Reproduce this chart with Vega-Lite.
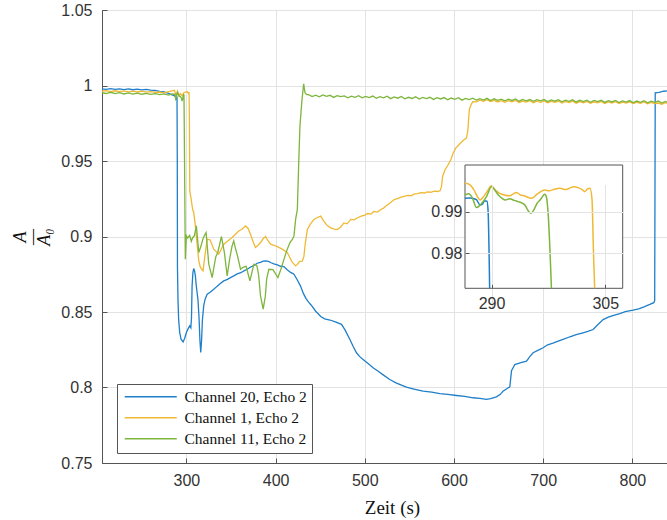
{
  "$schema": "https://vega.github.io/schema/vega-lite/v6.json",
  "width": 565,
  "height": 453,
  "autosize": {"type": "none"},
  "padding": {"left": 102, "top": 10, "right": 0, "bottom": 57},
  "background": "white",
  "config": {"view": {"stroke": "#555", "strokeWidth": 1}},
  "datasets": {
    "main": [
      {"s":"Channel 20, Echo 2","t":205.4,"v":0.9978},{"s":"Channel 20, Echo 2","t":210,"v":0.9975},{"s":"Channel 20, Echo 2","t":215,"v":0.9979},{"s":"Channel 20, Echo 2","t":220,"v":0.9974},{"s":"Channel 20, Echo 2","t":225,"v":0.9977},{"s":"Channel 20, Echo 2","t":230,"v":0.9973},{"s":"Channel 20, Echo 2","t":235,"v":0.9977},{"s":"Channel 20, Echo 2","t":240,"v":0.9972},{"s":"Channel 20, Echo 2","t":245,"v":0.9976},{"s":"Channel 20, Echo 2","t":250,"v":0.9971},{"s":"Channel 20, Echo 2","t":255,"v":0.9974},{"s":"Channel 20, Echo 2","t":260,"v":0.9969},{"s":"Channel 20, Echo 2","t":265,"v":0.9967},{"s":"Channel 20, Echo 2","t":270,"v":0.9961},{"s":"Channel 20, Echo 2","t":275,"v":0.9957},{"s":"Channel 20, Echo 2","t":280,"v":0.9948},{"s":"Channel 20, Echo 2","t":284,"v":0.9938},{"s":"Channel 20, Echo 2","t":287,"v":0.9932},{"s":"Channel 20, Echo 2","t":288.5,"v":0.9916},{"s":"Channel 20, Echo 2","t":289.1,"v":0.9926},{"s":"Channel 20, Echo 2","t":289.5,"v":0.9924},{"s":"Channel 20, Echo 2","t":289.8,"v":0.95},{"s":"Channel 20, Echo 2","t":290.0,"v":0.8795},{"s":"Channel 20, Echo 2","t":290.6,"v":0.858},{"s":"Channel 20, Echo 2","t":291.3,"v":0.8452},{"s":"Channel 20, Echo 2","t":292.5,"v":0.8365},{"s":"Channel 20, Echo 2","t":294,"v":0.832},{"s":"Channel 20, Echo 2","t":296.3,"v":0.8302},{"s":"Channel 20, Echo 2","t":298,"v":0.8325},{"s":"Channel 20, Echo 2","t":300,"v":0.8364},{"s":"Channel 20, Echo 2","t":302,"v":0.839},{"s":"Channel 20, Echo 2","t":303.7,"v":0.8408},{"s":"Channel 20, Echo 2","t":305,"v":0.8395},{"s":"Channel 20, Echo 2","t":305.7,"v":0.846},{"s":"Channel 20, Echo 2","t":306.4,"v":0.8673},{"s":"Channel 20, Echo 2","t":307.3,"v":0.876},{"s":"Channel 20, Echo 2","t":308.2,"v":0.8788},{"s":"Channel 20, Echo 2","t":309.2,"v":0.877},{"s":"Channel 20, Echo 2","t":310.1,"v":0.8739},{"s":"Channel 20, Echo 2","t":311,"v":0.868},{"s":"Channel 20, Echo 2","t":312,"v":0.8629},{"s":"Channel 20, Echo 2","t":313,"v":0.858},{"s":"Channel 20, Echo 2","t":314.2,"v":0.846},{"s":"Channel 20, Echo 2","t":315.2,"v":0.831},{"s":"Channel 20, Echo 2","t":316.1,"v":0.8232},{"s":"Channel 20, Echo 2","t":317,"v":0.831},{"s":"Channel 20, Echo 2","t":318,"v":0.845},{"s":"Channel 20, Echo 2","t":319.4,"v":0.854},{"s":"Channel 20, Echo 2","t":321,"v":0.8585},{"s":"Channel 20, Echo 2","t":323.3,"v":0.8618},{"s":"Channel 20, Echo 2","t":327,"v":0.8632},{"s":"Channel 20, Echo 2","t":330.7,"v":0.865},{"s":"Channel 20, Echo 2","t":334,"v":0.8668},{"s":"Channel 20, Echo 2","t":338,"v":0.8688},{"s":"Channel 20, Echo 2","t":341.9,"v":0.8706},{"s":"Channel 20, Echo 2","t":346,"v":0.8716},{"s":"Channel 20, Echo 2","t":349.5,"v":0.8728},{"s":"Channel 20, Echo 2","t":353.1,"v":0.8739},{"s":"Channel 20, Echo 2","t":357,"v":0.8752},{"s":"Channel 20, Echo 2","t":361,"v":0.876},{"s":"Channel 20, Echo 2","t":365,"v":0.8774},{"s":"Channel 20, Echo 2","t":368.2,"v":0.8783},{"s":"Channel 20, Echo 2","t":372,"v":0.8798},{"s":"Channel 20, Echo 2","t":376,"v":0.8809},{"s":"Channel 20, Echo 2","t":379.4,"v":0.8823},{"s":"Channel 20, Echo 2","t":383,"v":0.8829},{"s":"Channel 20, Echo 2","t":386,"v":0.8837},{"s":"Channel 20, Echo 2","t":388.8,"v":0.8839},{"s":"Channel 20, Echo 2","t":392,"v":0.8835},{"s":"Channel 20, Echo 2","t":395,"v":0.8826},{"s":"Channel 20, Echo 2","t":398.1,"v":0.8819},{"s":"Channel 20, Echo 2","t":402,"v":0.8812},{"s":"Channel 20, Echo 2","t":405.6,"v":0.8803},{"s":"Channel 20, Echo 2","t":409.3,"v":0.8801},{"s":"Channel 20, Echo 2","t":413,"v":0.878},{"s":"Channel 20, Echo 2","t":416.9,"v":0.8762},{"s":"Channel 20, Echo 2","t":420.6,"v":0.875},{"s":"Channel 20, Echo 2","t":424.4,"v":0.8712},{"s":"Channel 20, Echo 2","t":428.1,"v":0.867},{"s":"Channel 20, Echo 2","t":431,"v":0.8625},{"s":"Channel 20, Echo 2","t":434,"v":0.859},{"s":"Channel 20, Echo 2","t":437,"v":0.8565},{"s":"Channel 20, Echo 2","t":440,"v":0.8545},{"s":"Channel 20, Echo 2","t":445,"v":0.8505},{"s":"Channel 20, Echo 2","t":450.6,"v":0.847},{"s":"Channel 20, Echo 2","t":455,"v":0.8455},{"s":"Channel 20, Echo 2","t":461,"v":0.8447},{"s":"Channel 20, Echo 2","t":467,"v":0.8435},{"s":"Channel 20, Echo 2","t":473.9,"v":0.8418},{"s":"Channel 20, Echo 2","t":478,"v":0.838},{"s":"Channel 20, Echo 2","t":483.2,"v":0.8319},{"s":"Channel 20, Echo 2","t":487,"v":0.8272},{"s":"Channel 20, Echo 2","t":490.7,"v":0.823},{"s":"Channel 20, Echo 2","t":494,"v":0.8206},{"s":"Channel 20, Echo 2","t":498.1,"v":0.8186},{"s":"Channel 20, Echo 2","t":503,"v":0.8162},{"s":"Channel 20, Echo 2","t":509.3,"v":0.8131},{"s":"Channel 20, Echo 2","t":515,"v":0.8108},{"s":"Channel 20, Echo 2","t":521,"v":0.8082},{"s":"Channel 20, Echo 2","t":528,"v":0.8053},{"s":"Channel 20, Echo 2","t":535,"v":0.8031},{"s":"Channel 20, Echo 2","t":541,"v":0.8016},{"s":"Channel 20, Echo 2","t":546.7,"v":0.8002},{"s":"Channel 20, Echo 2","t":555,"v":0.799},{"s":"Channel 20, Echo 2","t":565.4,"v":0.7976},{"s":"Channel 20, Echo 2","t":575,"v":0.7969},{"s":"Channel 20, Echo 2","t":584.1,"v":0.796},{"s":"Channel 20, Echo 2","t":593,"v":0.7954},{"s":"Channel 20, Echo 2","t":602.8,"v":0.7947},{"s":"Channel 20, Echo 2","t":612,"v":0.7941},{"s":"Channel 20, Echo 2","t":621.5,"v":0.7932},{"s":"Channel 20, Echo 2","t":629,"v":0.7928},{"s":"Channel 20, Echo 2","t":636.4,"v":0.7921},{"s":"Channel 20, Echo 2","t":641,"v":0.7926},{"s":"Channel 20, Echo 2","t":647.6,"v":0.7938},{"s":"Channel 20, Echo 2","t":652,"v":0.7955},{"s":"Channel 20, Echo 2","t":655,"v":0.7976},{"s":"Channel 20, Echo 2","t":660,"v":0.7995},{"s":"Channel 20, Echo 2","t":662.6,"v":0.8004},{"s":"Channel 20, Echo 2","t":664.5,"v":0.8112},{"s":"Channel 20, Echo 2","t":668.2,"v":0.8152},{"s":"Channel 20, Echo 2","t":675,"v":0.8165},{"s":"Channel 20, Echo 2","t":681.3,"v":0.8175},{"s":"Channel 20, Echo 2","t":685,"v":0.8205},{"s":"Channel 20, Echo 2","t":688.7,"v":0.823},{"s":"Channel 20, Echo 2","t":694,"v":0.8246},{"s":"Channel 20, Echo 2","t":699.9,"v":0.8263},{"s":"Channel 20, Echo 2","t":705,"v":0.8283},{"s":"Channel 20, Echo 2","t":711,"v":0.8294},{"s":"Channel 20, Echo 2","t":716,"v":0.8306},{"s":"Channel 20, Echo 2","t":722.3,"v":0.8319},{"s":"Channel 20, Echo 2","t":730,"v":0.8336},{"s":"Channel 20, Echo 2","t":737,"v":0.835},{"s":"Channel 20, Echo 2","t":744.7,"v":0.8362},{"s":"Channel 20, Echo 2","t":750,"v":0.8371},{"s":"Channel 20, Echo 2","t":756,"v":0.8384},{"s":"Channel 20, Echo 2","t":762,"v":0.8421},{"s":"Channel 20, Echo 2","t":767.2,"v":0.845},{"s":"Channel 20, Echo 2","t":773,"v":0.8466},{"s":"Channel 20, Echo 2","t":780,"v":0.848},{"s":"Channel 20, Echo 2","t":785.9,"v":0.849},{"s":"Channel 20, Echo 2","t":792,"v":0.8502},{"s":"Channel 20, Echo 2","t":800.8,"v":0.8512},{"s":"Channel 20, Echo 2","t":807,"v":0.8521},{"s":"Channel 20, Echo 2","t":813,"v":0.8534},{"s":"Channel 20, Echo 2","t":819.5,"v":0.855},{"s":"Channel 20, Echo 2","t":824,"v":0.8562},{"s":"Channel 20, Echo 2","t":825,"v":0.8575},{"s":"Channel 20, Echo 2","t":825.6,"v":0.9952},{"s":"Channel 20, Echo 2","t":830,"v":0.9955},{"s":"Channel 20, Echo 2","t":835,"v":0.9962},{"s":"Channel 20, Echo 2","t":838.8,"v":0.9964},

      {"s":"Channel 1, Echo 2","t":205.4,"v":0.9962},{"s":"Channel 1, Echo 2","t":210,"v":0.9966},{"s":"Channel 1, Echo 2","t":215,"v":0.996},{"s":"Channel 1, Echo 2","t":220,"v":0.9965},{"s":"Channel 1, Echo 2","t":225,"v":0.9959},{"s":"Channel 1, Echo 2","t":230,"v":0.9964},{"s":"Channel 1, Echo 2","t":235,"v":0.9958},{"s":"Channel 1, Echo 2","t":240,"v":0.9963},{"s":"Channel 1, Echo 2","t":245,"v":0.9957},{"s":"Channel 1, Echo 2","t":250,"v":0.9962},{"s":"Channel 1, Echo 2","t":255,"v":0.9956},{"s":"Channel 1, Echo 2","t":260,"v":0.996},{"s":"Channel 1, Echo 2","t":265,"v":0.9954},{"s":"Channel 1, Echo 2","t":270,"v":0.9957},{"s":"Channel 1, Echo 2","t":275,"v":0.9951},{"s":"Channel 1, Echo 2","t":280,"v":0.9959},{"s":"Channel 1, Echo 2","t":284,"v":0.9965},{"s":"Channel 1, Echo 2","t":286.6,"v":0.9968},{"s":"Channel 1, Echo 2","t":287.8,"v":0.9948},{"s":"Channel 1, Echo 2","t":288.5,"v":0.9928},{"s":"Channel 1, Echo 2","t":289.3,"v":0.9945},{"s":"Channel 1, Echo 2","t":290,"v":0.9962},{"s":"Channel 1, Echo 2","t":291.1,"v":0.9944},{"s":"Channel 1, Echo 2","t":292.4,"v":0.9938},{"s":"Channel 1, Echo 2","t":293.3,"v":0.9946},{"s":"Channel 1, Echo 2","t":295.3,"v":0.9932},{"s":"Channel 1, Echo 2","t":297,"v":0.9952},{"s":"Channel 1, Echo 2","t":299,"v":0.9956},{"s":"Channel 1, Echo 2","t":300.8,"v":0.996},{"s":"Channel 1, Echo 2","t":302.3,"v":0.9948},{"s":"Channel 1, Echo 2","t":303.0,"v":0.9956},{"s":"Channel 1, Echo 2","t":303.4,"v":0.975},{"s":"Channel 1, Echo 2","t":303.8,"v":0.93},{"s":"Channel 1, Echo 2","t":305.3,"v":0.925},{"s":"Channel 1, Echo 2","t":307,"v":0.918},{"s":"Channel 1, Echo 2","t":308.2,"v":0.9159},{"s":"Channel 1, Echo 2","t":310.1,"v":0.907},{"s":"Channel 1, Echo 2","t":312,"v":0.895},{"s":"Channel 1, Echo 2","t":313.9,"v":0.8839},{"s":"Channel 1, Echo 2","t":315.7,"v":0.8795},{"s":"Channel 1, Echo 2","t":318.7,"v":0.8772},{"s":"Channel 1, Echo 2","t":320.5,"v":0.886},{"s":"Channel 1, Echo 2","t":323.3,"v":0.8982},{"s":"Channel 1, Echo 2","t":326.5,"v":0.8978},{"s":"Channel 1, Echo 2","t":330.7,"v":0.8916},{"s":"Channel 1, Echo 2","t":336.3,"v":0.8883},{"s":"Channel 1, Echo 2","t":341.9,"v":0.8949},{"s":"Channel 1, Echo 2","t":346,"v":0.8968},{"s":"Channel 1, Echo 2","t":351.3,"v":0.8993},{"s":"Channel 1, Echo 2","t":355,"v":0.9015},{"s":"Channel 1, Echo 2","t":358.8,"v":0.9037},{"s":"Channel 1, Echo 2","t":362.6,"v":0.905},{"s":"Channel 1, Echo 2","t":366.3,"v":0.907},{"s":"Channel 1, Echo 2","t":369,"v":0.9055},{"s":"Channel 1, Echo 2","t":371.9,"v":0.9015},{"s":"Channel 1, Echo 2","t":375,"v":0.8962},{"s":"Channel 1, Echo 2","t":377.5,"v":0.8927},{"s":"Channel 1, Echo 2","t":380,"v":0.894},{"s":"Channel 1, Echo 2","t":383.1,"v":0.896},{"s":"Channel 1, Echo 2","t":386,"v":0.8985},{"s":"Channel 1, Echo 2","t":388.8,"v":0.9},{"s":"Channel 1, Echo 2","t":391.5,"v":0.8972},{"s":"Channel 1, Echo 2","t":394.4,"v":0.8949},{"s":"Channel 1, Echo 2","t":398,"v":0.8942},{"s":"Channel 1, Echo 2","t":402,"v":0.8933},{"s":"Channel 1, Echo 2","t":407.5,"v":0.8916},{"s":"Channel 1, Echo 2","t":413.1,"v":0.8894},{"s":"Channel 1, Echo 2","t":416,"v":0.886},{"s":"Channel 1, Echo 2","t":418.8,"v":0.8828},{"s":"Channel 1, Echo 2","t":422.5,"v":0.8805},{"s":"Channel 1, Echo 2","t":424.4,"v":0.8815},{"s":"Channel 1, Echo 2","t":427,"v":0.8836},{"s":"Channel 1, Echo 2","t":430,"v":0.8837},{"s":"Channel 1, Echo 2","t":431.8,"v":0.887},{"s":"Channel 1, Echo 2","t":433.2,"v":0.895},{"s":"Channel 1, Echo 2","t":435.6,"v":0.9046},{"s":"Channel 1, Echo 2","t":439,"v":0.9082},{"s":"Channel 1, Echo 2","t":443,"v":0.9113},{"s":"Channel 1, Echo 2","t":447,"v":0.9126},{"s":"Channel 1, Echo 2","t":450.6,"v":0.9135},{"s":"Channel 1, Echo 2","t":454,"v":0.9102},{"s":"Channel 1, Echo 2","t":458,"v":0.9072},{"s":"Channel 1, Echo 2","t":461.8,"v":0.9057},{"s":"Channel 1, Echo 2","t":466,"v":0.9049},{"s":"Channel 1, Echo 2","t":469.3,"v":0.9046},{"s":"Channel 1, Echo 2","t":473,"v":0.9063},{"s":"Channel 1, Echo 2","t":476.7,"v":0.909},{"s":"Channel 1, Echo 2","t":480,"v":0.9084},{"s":"Channel 1, Echo 2","t":484.3,"v":0.9113},{"s":"Channel 1, Echo 2","t":488,"v":0.911},{"s":"Channel 1, Echo 2","t":492,"v":0.9124},{"s":"Channel 1, Echo 2","t":496,"v":0.9135},{"s":"Channel 1, Echo 2","t":500,"v":0.9142},{"s":"Channel 1, Echo 2","t":503,"v":0.9152},{"s":"Channel 1, Echo 2","t":507,"v":0.9148},{"s":"Channel 1, Echo 2","t":510,"v":0.9166},{"s":"Channel 1, Echo 2","t":514,"v":0.9162},{"s":"Channel 1, Echo 2","t":518,"v":0.9179},{"s":"Channel 1, Echo 2","t":521,"v":0.9188},{"s":"Channel 1, Echo 2","t":524,"v":0.9203},{"s":"Channel 1, Echo 2","t":528,"v":0.922},{"s":"Channel 1, Echo 2","t":533,"v":0.9245},{"s":"Channel 1, Echo 2","t":537,"v":0.9252},{"s":"Channel 1, Echo 2","t":540,"v":0.9259},{"s":"Channel 1, Echo 2","t":544,"v":0.9266},{"s":"Channel 1, Echo 2","t":548,"v":0.9272},{"s":"Channel 1, Echo 2","t":552,"v":0.927},{"s":"Channel 1, Echo 2","t":555,"v":0.928},{"s":"Channel 1, Echo 2","t":559,"v":0.9284},{"s":"Channel 1, Echo 2","t":563,"v":0.929},{"s":"Channel 1, Echo 2","t":567,"v":0.9288},{"s":"Channel 1, Echo 2","t":570,"v":0.9296},{"s":"Channel 1, Echo 2","t":574,"v":0.9293},{"s":"Channel 1, Echo 2","t":578,"v":0.93},{"s":"Channel 1, Echo 2","t":582,"v":0.9298},{"s":"Channel 1, Echo 2","t":584.5,"v":0.9304},{"s":"Channel 1, Echo 2","t":586,"v":0.933},{"s":"Channel 1, Echo 2","t":587.3,"v":0.9399},{"s":"Channel 1, Echo 2","t":590,"v":0.9442},{"s":"Channel 1, Echo 2","t":593,"v":0.947},{"s":"Channel 1, Echo 2","t":596.6,"v":0.951},{"s":"Channel 1, Echo 2","t":599,"v":0.9552},{"s":"Channel 1, Echo 2","t":602.2,"v":0.9587},{"s":"Channel 1, Echo 2","t":606,"v":0.9611},{"s":"Channel 1, Echo 2","t":610,"v":0.9634},{"s":"Channel 1, Echo 2","t":611.6,"v":0.9642},{"s":"Channel 1, Echo 2","t":614,"v":0.9652},{"s":"Channel 1, Echo 2","t":615.5,"v":0.97},{"s":"Channel 1, Echo 2","t":617.2,"v":0.9841},{"s":"Channel 1, Echo 2","t":619,"v":0.987},{"s":"Channel 1, Echo 2","t":621,"v":0.9893},{"s":"Channel 1, Echo 2","t":625,"v":0.9892},{"s":"Channel 1, Echo 2","t":629,"v":0.9903},{"s":"Channel 1, Echo 2","t":633,"v":0.9895},{"s":"Channel 1, Echo 2","t":637,"v":0.9906},{"s":"Channel 1, Echo 2","t":641,"v":0.9893},{"s":"Channel 1, Echo 2","t":645,"v":0.9902},{"s":"Channel 1, Echo 2","t":649,"v":0.9891},{"s":"Channel 1, Echo 2","t":653,"v":0.99},{"s":"Channel 1, Echo 2","t":657,"v":0.9889},{"s":"Channel 1, Echo 2","t":661,"v":0.9899},{"s":"Channel 1, Echo 2","t":665,"v":0.9892},{"s":"Channel 1, Echo 2","t":669,"v":0.9901},{"s":"Channel 1, Echo 2","t":673,"v":0.9888},{"s":"Channel 1, Echo 2","t":677,"v":0.9897},{"s":"Channel 1, Echo 2","t":681,"v":0.989},{"s":"Channel 1, Echo 2","t":685,"v":0.9899},{"s":"Channel 1, Echo 2","t":689,"v":0.9886},{"s":"Channel 1, Echo 2","t":693,"v":0.9896},{"s":"Channel 1, Echo 2","t":697,"v":0.9889},{"s":"Channel 1, Echo 2","t":701,"v":0.9898},{"s":"Channel 1, Echo 2","t":705,"v":0.9885},{"s":"Channel 1, Echo 2","t":709,"v":0.9895},{"s":"Channel 1, Echo 2","t":713,"v":0.9888},{"s":"Channel 1, Echo 2","t":717,"v":0.9897},{"s":"Channel 1, Echo 2","t":721,"v":0.9884},{"s":"Channel 1, Echo 2","t":725,"v":0.9894},{"s":"Channel 1, Echo 2","t":729,"v":0.9887},{"s":"Channel 1, Echo 2","t":733,"v":0.9896},{"s":"Channel 1, Echo 2","t":737,"v":0.9883},{"s":"Channel 1, Echo 2","t":741,"v":0.9893},{"s":"Channel 1, Echo 2","t":745,"v":0.9886},{"s":"Channel 1, Echo 2","t":749,"v":0.9895},{"s":"Channel 1, Echo 2","t":753,"v":0.9882},{"s":"Channel 1, Echo 2","t":757,"v":0.9892},{"s":"Channel 1, Echo 2","t":761,"v":0.9885},{"s":"Channel 1, Echo 2","t":765,"v":0.9894},{"s":"Channel 1, Echo 2","t":769,"v":0.9881},{"s":"Channel 1, Echo 2","t":773,"v":0.9891},{"s":"Channel 1, Echo 2","t":777,"v":0.9884},{"s":"Channel 1, Echo 2","t":781,"v":0.9893},{"s":"Channel 1, Echo 2","t":785,"v":0.988},{"s":"Channel 1, Echo 2","t":789,"v":0.989},{"s":"Channel 1, Echo 2","t":793,"v":0.9883},{"s":"Channel 1, Echo 2","t":797,"v":0.9892},{"s":"Channel 1, Echo 2","t":801,"v":0.988},{"s":"Channel 1, Echo 2","t":805,"v":0.9889},{"s":"Channel 1, Echo 2","t":809,"v":0.9882},{"s":"Channel 1, Echo 2","t":813,"v":0.9891},{"s":"Channel 1, Echo 2","t":817,"v":0.9879},{"s":"Channel 1, Echo 2","t":821,"v":0.9888},{"s":"Channel 1, Echo 2","t":825,"v":0.9881},{"s":"Channel 1, Echo 2","t":829,"v":0.9884},{"s":"Channel 1, Echo 2","t":833,"v":0.9876},{"s":"Channel 1, Echo 2","t":837,"v":0.9886},{"s":"Channel 1, Echo 2","t":838.8,"v":0.9882},

      {"s":"Channel 11, Echo 2","t":205.4,"v":0.9952},{"s":"Channel 11, Echo 2","t":210,"v":0.9947},{"s":"Channel 11, Echo 2","t":215,"v":0.9955},{"s":"Channel 11, Echo 2","t":220,"v":0.9946},{"s":"Channel 11, Echo 2","t":225,"v":0.9953},{"s":"Channel 11, Echo 2","t":230,"v":0.9944},{"s":"Channel 11, Echo 2","t":235,"v":0.9951},{"s":"Channel 11, Echo 2","t":240,"v":0.9943},{"s":"Channel 11, Echo 2","t":245,"v":0.995},{"s":"Channel 11, Echo 2","t":250,"v":0.9942},{"s":"Channel 11, Echo 2","t":255,"v":0.9948},{"s":"Channel 11, Echo 2","t":260,"v":0.9941},{"s":"Channel 11, Echo 2","t":265,"v":0.9946},{"s":"Channel 11, Echo 2","t":270,"v":0.9939},{"s":"Channel 11, Echo 2","t":275,"v":0.9944},{"s":"Channel 11, Echo 2","t":280,"v":0.9937},{"s":"Channel 11, Echo 2","t":284,"v":0.9944},{"s":"Channel 11, Echo 2","t":286.6,"v":0.9942},{"s":"Channel 11, Echo 2","t":287.2,"v":0.9943},{"s":"Channel 11, Echo 2","t":288,"v":0.991},{"s":"Channel 11, Echo 2","t":288.7,"v":0.992},{"s":"Channel 11, Echo 2","t":289.4,"v":0.9945},{"s":"Channel 11, Echo 2","t":290,"v":0.996},{"s":"Channel 11, Echo 2","t":290.9,"v":0.994},{"s":"Channel 11, Echo 2","t":291.8,"v":0.9928},{"s":"Channel 11, Echo 2","t":292.7,"v":0.993},{"s":"Channel 11, Echo 2","t":293.5,"v":0.9924},{"s":"Channel 11, Echo 2","t":294.4,"v":0.9916},{"s":"Channel 11, Echo 2","t":295.2,"v":0.9896},{"s":"Channel 11, Echo 2","t":295.8,"v":0.9912},{"s":"Channel 11, Echo 2","t":296.4,"v":0.9928},{"s":"Channel 11, Echo 2","t":297.0,"v":0.9942},{"s":"Channel 11, Echo 2","t":297.3,"v":0.9935},{"s":"Channel 11, Echo 2","t":297.6,"v":0.975},{"s":"Channel 11, Echo 2","t":298.2,"v":0.93},{"s":"Channel 11, Echo 2","t":298.8,"v":0.885},{"s":"Channel 11, Echo 2","t":300,"v":0.9004},{"s":"Channel 11, Echo 2","t":301.5,"v":0.899},{"s":"Channel 11, Echo 2","t":303.7,"v":0.9007},{"s":"Channel 11, Echo 2","t":305.5,"v":0.8968},{"s":"Channel 11, Echo 2","t":307,"v":0.8992},{"s":"Channel 11, Echo 2","t":309,"v":0.9005},{"s":"Channel 11, Echo 2","t":311.2,"v":0.907},{"s":"Channel 11, Echo 2","t":313.9,"v":0.8894},{"s":"Channel 11, Echo 2","t":316,"v":0.893},{"s":"Channel 11, Echo 2","t":318.5,"v":0.8982},{"s":"Channel 11, Echo 2","t":320.5,"v":0.901},{"s":"Channel 11, Echo 2","t":322.1,"v":0.9026},{"s":"Channel 11, Echo 2","t":325.1,"v":0.8817},{"s":"Channel 11, Echo 2","t":328.9,"v":0.8728},{"s":"Channel 11, Echo 2","t":331,"v":0.88},{"s":"Channel 11, Echo 2","t":333,"v":0.8866},{"s":"Channel 11, Echo 2","t":335.2,"v":0.8894},{"s":"Channel 11, Echo 2","t":339.3,"v":0.9},{"s":"Channel 11, Echo 2","t":342.7,"v":0.889},{"s":"Channel 11, Echo 2","t":345.7,"v":0.8739},{"s":"Channel 11, Echo 2","t":348.5,"v":0.885},{"s":"Channel 11, Echo 2","t":351,"v":0.8932},{"s":"Channel 11, Echo 2","t":353.1,"v":0.8971},{"s":"Channel 11, Echo 2","t":355,"v":0.8922},{"s":"Channel 11, Echo 2","t":356.9,"v":0.8882},{"s":"Channel 11, Echo 2","t":360.7,"v":0.8783},{"s":"Channel 11, Echo 2","t":363.5,"v":0.8796},{"s":"Channel 11, Echo 2","t":367,"v":0.8802},{"s":"Channel 11, Echo 2","t":371.2,"v":0.8706},{"s":"Channel 11, Echo 2","t":375.7,"v":0.8817},{"s":"Channel 11, Echo 2","t":379,"v":0.8808},{"s":"Channel 11, Echo 2","t":381,"v":0.8745},{"s":"Channel 11, Echo 2","t":383.1,"v":0.8607},{"s":"Channel 11, Echo 2","t":386.1,"v":0.8519},{"s":"Channel 11, Echo 2","t":388.5,"v":0.8605},{"s":"Channel 11, Echo 2","t":390,"v":0.872},{"s":"Channel 11, Echo 2","t":392.5,"v":0.8783},{"s":"Channel 11, Echo 2","t":397,"v":0.8781},{"s":"Channel 11, Echo 2","t":402.6,"v":0.8728},{"s":"Channel 11, Echo 2","t":406,"v":0.8783},{"s":"Channel 11, Echo 2","t":409,"v":0.8842},{"s":"Channel 11, Echo 2","t":412.4,"v":0.8905},{"s":"Channel 11, Echo 2","t":416.1,"v":0.896},{"s":"Channel 11, Echo 2","t":419,"v":0.8982},{"s":"Channel 11, Echo 2","t":420.6,"v":0.9004},{"s":"Channel 11, Echo 2","t":422.5,"v":0.9115},{"s":"Channel 11, Echo 2","t":424.4,"v":0.9179},{"s":"Channel 11, Echo 2","t":426,"v":0.95},{"s":"Channel 11, Echo 2","t":427.3,"v":0.973},{"s":"Channel 11, Echo 2","t":429.5,"v":0.99},{"s":"Channel 11, Echo 2","t":431.5,"v":1.0011},{"s":"Channel 11, Echo 2","t":433,"v":0.9952},{"s":"Channel 11, Echo 2","t":434.8,"v":0.994},{"s":"Channel 11, Echo 2","t":437,"v":0.994},{"s":"Channel 11, Echo 2","t":441,"v":0.9927},{"s":"Channel 11, Echo 2","t":445,"v":0.9936},{"s":"Channel 11, Echo 2","t":449,"v":0.9925},{"s":"Channel 11, Echo 2","t":453,"v":0.9938},{"s":"Channel 11, Echo 2","t":457,"v":0.9928},{"s":"Channel 11, Echo 2","t":461,"v":0.9935},{"s":"Channel 11, Echo 2","t":465,"v":0.9921},{"s":"Channel 11, Echo 2","t":469,"v":0.9933},{"s":"Channel 11, Echo 2","t":473,"v":0.9926},{"s":"Channel 11, Echo 2","t":477,"v":0.9931},{"s":"Channel 11, Echo 2","t":481,"v":0.9919},{"s":"Channel 11, Echo 2","t":485,"v":0.9929},{"s":"Channel 11, Echo 2","t":489,"v":0.9922},{"s":"Channel 11, Echo 2","t":493,"v":0.9932},{"s":"Channel 11, Echo 2","t":497,"v":0.9918},{"s":"Channel 11, Echo 2","t":501,"v":0.9928},{"s":"Channel 11, Echo 2","t":505,"v":0.992},{"s":"Channel 11, Echo 2","t":509,"v":0.993},{"s":"Channel 11, Echo 2","t":513,"v":0.9915},{"s":"Channel 11, Echo 2","t":517,"v":0.9926},{"s":"Channel 11, Echo 2","t":521,"v":0.9918},{"s":"Channel 11, Echo 2","t":525,"v":0.9929},{"s":"Channel 11, Echo 2","t":529,"v":0.9913},{"s":"Channel 11, Echo 2","t":533,"v":0.9924},{"s":"Channel 11, Echo 2","t":537,"v":0.9916},{"s":"Channel 11, Echo 2","t":541,"v":0.9927},{"s":"Channel 11, Echo 2","t":545,"v":0.9912},{"s":"Channel 11, Echo 2","t":549,"v":0.9922},{"s":"Channel 11, Echo 2","t":553,"v":0.9914},{"s":"Channel 11, Echo 2","t":557,"v":0.9925},{"s":"Channel 11, Echo 2","t":561,"v":0.991},{"s":"Channel 11, Echo 2","t":565,"v":0.9921},{"s":"Channel 11, Echo 2","t":569,"v":0.9913},{"s":"Channel 11, Echo 2","t":573,"v":0.9922},{"s":"Channel 11, Echo 2","t":577,"v":0.9908},{"s":"Channel 11, Echo 2","t":581,"v":0.9919},{"s":"Channel 11, Echo 2","t":585,"v":0.9911},{"s":"Channel 11, Echo 2","t":589,"v":0.992},{"s":"Channel 11, Echo 2","t":593,"v":0.9906},{"s":"Channel 11, Echo 2","t":597,"v":0.9917},{"s":"Channel 11, Echo 2","t":601,"v":0.9909},{"s":"Channel 11, Echo 2","t":605,"v":0.9919},{"s":"Channel 11, Echo 2","t":609,"v":0.9903},{"s":"Channel 11, Echo 2","t":613,"v":0.9915},{"s":"Channel 11, Echo 2","t":617,"v":0.9907},{"s":"Channel 11, Echo 2","t":621,"v":0.9916},{"s":"Channel 11, Echo 2","t":625,"v":0.9903},{"s":"Channel 11, Echo 2","t":629,"v":0.9913},{"s":"Channel 11, Echo 2","t":633,"v":0.9904},{"s":"Channel 11, Echo 2","t":637,"v":0.9915},{"s":"Channel 11, Echo 2","t":641,"v":0.99},{"s":"Channel 11, Echo 2","t":645,"v":0.9912},{"s":"Channel 11, Echo 2","t":649,"v":0.9902},{"s":"Channel 11, Echo 2","t":653,"v":0.991},{"s":"Channel 11, Echo 2","t":657,"v":0.9898},{"s":"Channel 11, Echo 2","t":661,"v":0.9909},{"s":"Channel 11, Echo 2","t":665,"v":0.9901},{"s":"Channel 11, Echo 2","t":669,"v":0.9911},{"s":"Channel 11, Echo 2","t":673,"v":0.9896},{"s":"Channel 11, Echo 2","t":677,"v":0.9908},{"s":"Channel 11, Echo 2","t":681,"v":0.9899},{"s":"Channel 11, Echo 2","t":685,"v":0.9907},{"s":"Channel 11, Echo 2","t":689,"v":0.9895},{"s":"Channel 11, Echo 2","t":693,"v":0.9906},{"s":"Channel 11, Echo 2","t":697,"v":0.9898},{"s":"Channel 11, Echo 2","t":701,"v":0.9907},{"s":"Channel 11, Echo 2","t":705,"v":0.9893},{"s":"Channel 11, Echo 2","t":709,"v":0.9904},{"s":"Channel 11, Echo 2","t":713,"v":0.9896},{"s":"Channel 11, Echo 2","t":717,"v":0.9906},{"s":"Channel 11, Echo 2","t":721,"v":0.9892},{"s":"Channel 11, Echo 2","t":725,"v":0.9903},{"s":"Channel 11, Echo 2","t":729,"v":0.9895},{"s":"Channel 11, Echo 2","t":733,"v":0.9905},{"s":"Channel 11, Echo 2","t":737,"v":0.9891},{"s":"Channel 11, Echo 2","t":741,"v":0.9902},{"s":"Channel 11, Echo 2","t":745,"v":0.9894},{"s":"Channel 11, Echo 2","t":749,"v":0.9903},{"s":"Channel 11, Echo 2","t":753,"v":0.9889},{"s":"Channel 11, Echo 2","t":757,"v":0.9901},{"s":"Channel 11, Echo 2","t":761,"v":0.9893},{"s":"Channel 11, Echo 2","t":765,"v":0.9902},{"s":"Channel 11, Echo 2","t":769,"v":0.9888},{"s":"Channel 11, Echo 2","t":773,"v":0.9899},{"s":"Channel 11, Echo 2","t":777,"v":0.9891},{"s":"Channel 11, Echo 2","t":781,"v":0.9901},{"s":"Channel 11, Echo 2","t":785,"v":0.9887},{"s":"Channel 11, Echo 2","t":789,"v":0.9898},{"s":"Channel 11, Echo 2","t":793,"v":0.989},{"s":"Channel 11, Echo 2","t":797,"v":0.99},{"s":"Channel 11, Echo 2","t":801,"v":0.9886},{"s":"Channel 11, Echo 2","t":805,"v":0.9897},{"s":"Channel 11, Echo 2","t":809,"v":0.9889},{"s":"Channel 11, Echo 2","t":813,"v":0.9899},{"s":"Channel 11, Echo 2","t":817,"v":0.9885},{"s":"Channel 11, Echo 2","t":821,"v":0.9896},{"s":"Channel 11, Echo 2","t":825,"v":0.9889},{"s":"Channel 11, Echo 2","t":829,"v":0.9897},{"s":"Channel 11, Echo 2","t":833,"v":0.9884},{"s":"Channel 11, Echo 2","t":837,"v":0.9895},{"s":"Channel 11, Echo 2","t":838.8,"v":0.989}
    ],
    "inset": [
      {"s":"Channel 20, Echo 2","t":286.5,"v":0.9932},{"s":"Channel 20, Echo 2","t":287,"v":0.9933},{"s":"Channel 20, Echo 2","t":287.5,"v":0.9932},{"s":"Channel 20, Echo 2","t":288,"v":0.9929},{"s":"Channel 20, Echo 2","t":288.5,"v":0.9916},{"s":"Channel 20, Echo 2","t":288.8,"v":0.9918},{"s":"Channel 20, Echo 2","t":289.1,"v":0.9926},{"s":"Channel 20, Echo 2","t":289.4,"v":0.9925},{"s":"Channel 20, Echo 2","t":289.55,"v":0.99},{"s":"Channel 20, Echo 2","t":289.75,"v":0.9716},
      {"s":"Channel 1, Echo 2","t":286.5,"v":0.9968},{"s":"Channel 1, Echo 2","t":287,"v":0.9966},{"s":"Channel 1, Echo 2","t":287.4,"v":0.996},{"s":"Channel 1, Echo 2","t":287.8,"v":0.9948},{"s":"Channel 1, Echo 2","t":288.2,"v":0.9934},{"s":"Channel 1, Echo 2","t":288.5,"v":0.9928},{"s":"Channel 1, Echo 2","t":288.9,"v":0.9935},{"s":"Channel 1, Echo 2","t":289.4,"v":0.9948},{"s":"Channel 1, Echo 2","t":290,"v":0.9962},{"s":"Channel 1, Echo 2","t":290.5,"v":0.9952},{"s":"Channel 1, Echo 2","t":291.1,"v":0.9944},{"s":"Channel 1, Echo 2","t":291.7,"v":0.994},{"s":"Channel 1, Echo 2","t":292.4,"v":0.9938},{"s":"Channel 1, Echo 2","t":293,"v":0.9944},{"s":"Channel 1, Echo 2","t":293.3,"v":0.9946},{"s":"Channel 1, Echo 2","t":293.8,"v":0.994},{"s":"Channel 1, Echo 2","t":294.3,"v":0.9938},{"s":"Channel 1, Echo 2","t":295.3,"v":0.9932},{"s":"Channel 1, Echo 2","t":296,"v":0.9942},{"s":"Channel 1, Echo 2","t":296.5,"v":0.9948},{"s":"Channel 1, Echo 2","t":297,"v":0.9952},{"s":"Channel 1, Echo 2","t":297.6,"v":0.995},{"s":"Channel 1, Echo 2","t":298.3,"v":0.9954},{"s":"Channel 1, Echo 2","t":299,"v":0.9956},{"s":"Channel 1, Echo 2","t":299.8,"v":0.9953},{"s":"Channel 1, Echo 2","t":300.8,"v":0.996},{"s":"Channel 1, Echo 2","t":301.5,"v":0.9957},{"s":"Channel 1, Echo 2","t":302,"v":0.9952},{"s":"Channel 1, Echo 2","t":302.3,"v":0.9948},{"s":"Channel 1, Echo 2","t":302.7,"v":0.9955},{"s":"Channel 1, Echo 2","t":303,"v":0.9956},{"s":"Channel 1, Echo 2","t":303.25,"v":0.993},{"s":"Channel 1, Echo 2","t":303.45,"v":0.98},{"s":"Channel 1, Echo 2","t":303.6,"v":0.9716},
      {"s":"Channel 11, Echo 2","t":286.5,"v":0.994},{"s":"Channel 11, Echo 2","t":287,"v":0.9943},{"s":"Channel 11, Echo 2","t":287.5,"v":0.9932},{"s":"Channel 11, Echo 2","t":288,"v":0.991},{"s":"Channel 11, Echo 2","t":288.4,"v":0.9914},{"s":"Channel 11, Echo 2","t":288.7,"v":0.992},{"s":"Channel 11, Echo 2","t":289.3,"v":0.9935},{"s":"Channel 11, Echo 2","t":290,"v":0.996},{"s":"Channel 11, Echo 2","t":290.5,"v":0.995},{"s":"Channel 11, Echo 2","t":290.9,"v":0.994},{"s":"Channel 11, Echo 2","t":291.4,"v":0.9932},{"s":"Channel 11, Echo 2","t":291.8,"v":0.9928},{"s":"Channel 11, Echo 2","t":292.4,"v":0.9931},{"s":"Channel 11, Echo 2","t":293,"v":0.9927},{"s":"Channel 11, Echo 2","t":293.5,"v":0.9924},{"s":"Channel 11, Echo 2","t":294,"v":0.9921},{"s":"Channel 11, Echo 2","t":294.4,"v":0.9916},{"s":"Channel 11, Echo 2","t":294.8,"v":0.9903},{"s":"Channel 11, Echo 2","t":295.2,"v":0.9896},{"s":"Channel 11, Echo 2","t":295.6,"v":0.9905},{"s":"Channel 11, Echo 2","t":296,"v":0.992},{"s":"Channel 11, Echo 2","t":296.4,"v":0.9928},{"s":"Channel 11, Echo 2","t":296.8,"v":0.9938},{"s":"Channel 11, Echo 2","t":297,"v":0.9942},{"s":"Channel 11, Echo 2","t":297.2,"v":0.9938},{"s":"Channel 11, Echo 2","t":297.45,"v":0.99},{"s":"Channel 11, Echo 2","t":297.9,"v":0.9716}
    ]
  },
  "layer": [
    {
      "data": {"name": "main"},
      "mark": {"type": "line", "strokeWidth": 1.3, "clip": true},
      "encoding": {
        "x": {
          "field": "t", "type": "quantitative",
          "scale": {"domain": [205.4, 838.8], "nice": false, "zero": false},
          "axis": {
            "values": [300, 400, 500, 600, 700, 800],
            "grid": true, "gridColor": "#e3e3e3",
            "domainColor": "#555", "tickColor": "#555", "tickSize": -5,
            "labelPadding": 14, "labelFont": "Liberation Sans", "labelFontSize": 16, "labelColor": "#333",
            "title": "Zeit (s)", "titleFont": "Liberation Serif", "titleFontSize": 19, "titleFontWeight": "normal", "titleColor": "#111",
            "titleX": 290, "titleY": 50, "titleBaseline": "alphabetic", "titleAnchor": "middle"
          }
        },
        "y": {
          "field": "v", "type": "quantitative",
          "scale": {"domain": [0.75, 1.05], "nice": false, "zero": false},
          "axis": {
            "values": [0.75, 0.8, 0.85, 0.9, 0.95, 1, 1.05], "format": "~g",
            "grid": true, "gridColor": "#e3e3e3",
            "domainColor": "#555", "tickColor": "#555", "tickSize": -5,
            "labelPadding": 15, "labelFont": "Liberation Sans", "labelFontSize": 16, "labelColor": "#333",
            "title": ["A", "—", "A₀"], "titleFont": "Liberation Serif", "titleFontStyle": "italic", "titleFontSize": 18, "titleFontWeight": "normal", "titleColor": "#111",
            "titleAngle": -90, "titleLineHeight": 12, "titleX": -77, "titleY": 226.5, "titleAlign": "center", "titleBaseline": "alphabetic"
          }
        },
        "color": {
          "field": "s", "type": "nominal",
          "scale": {"domain": ["Channel 20, Echo 2", "Channel 1, Echo 2", "Channel 11, Echo 2"], "range": ["#1f7fc9", "#f0b935", "#7db53d"]},
          "legend": {
            "orient": "none", "legendX": 15, "legendY": 374, "title": null,
            "symbolType": "M-1,0H9.4", "symbolSize": 100, "symbolStrokeWidth": 1.5,
            "labelFont": "Liberation Serif", "labelFontSize": 15.5, "labelColor": "#111", "labelOffset": 47,
            "fillColor": "white", "strokeColor": "#555", "padding": 5, "rowPadding": 4
          }
        }
      }
    },
    {
      "layer": [
        {
          "data": {"values": [{}]},
          "mark": {"type": "rect", "fill": "white", "stroke": "#555", "strokeWidth": 1},
          "encoding": {
            "x": {
              "datum": 286.5, "type": "quantitative",
              "scale": {"domain": [286.5, 307.3], "range": [363, 520.7], "nice": false, "zero": false},
              "axis": {
                "orient": "bottom", "offset": -174.7, "values": [290, 305],
                "grid": true, "gridColor": "#e3e3e3", "domain": false,
                "tickSize": -4, "tickColor": "#555",
                "labelPadding": 11, "labelFont": "Liberation Sans", "labelFontSize": 16, "labelColor": "#333",
                "title": null, "zindex": 1
              }
            },
            "x2": {"datum": 307.3},
            "y": {
              "datum": 0.9716, "type": "quantitative",
              "scale": {"domain": [0.9716, 1.0012], "range": [278.3, 155], "nice": false, "zero": false},
              "axis": {
                "orient": "left", "offset": -363, "values": [0.98, 0.99], "format": ".2f",
                "grid": true, "gridColor": "#e3e3e3", "domain": false,
                "tickSize": -4, "tickColor": "#555",
                "labelPadding": 7, "labelFont": "Liberation Sans", "labelFontSize": 16, "labelColor": "#333",
                "title": null, "zindex": 1
              }
            },
            "y2": {"datum": 1.0012}
          }
        },
        {
          "data": {"name": "inset"},
          "mark": {"type": "line", "strokeWidth": 1.5, "interpolate": "monotone"},
          "encoding": {
            "x": {"field": "t", "type": "quantitative"},
            "y": {"field": "v", "type": "quantitative"},
            "color": {"field": "s", "type": "nominal"}
          }
        }
      ]
    }
  ],
  "resolve": {"scale": {"x": "independent", "y": "independent"}}
}
